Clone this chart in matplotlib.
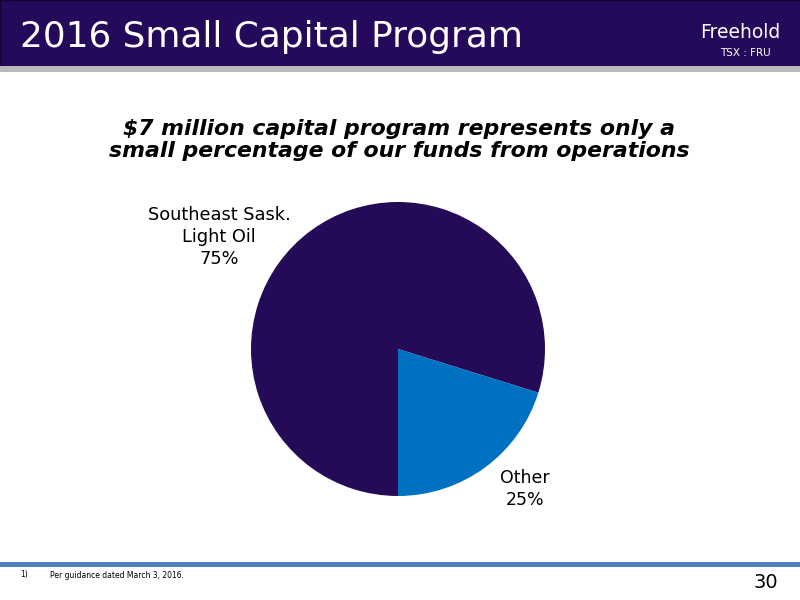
import matplotlib.pyplot as plt
from matplotlib.patches import Rectangle

plt.rcParams['font.family'] = ['DejaVu Sans']

# slice sizes as drawn in the picture, labels as printed on the slide
categories = ['Southeast Sask.\nLight Oil', 'Other']
drawn_share = [79.8, 20.2]
printed_pct = ['75%', '25%']
colors = ['#250A57', '#0070C0']

title = '2016 Small Capital Program'
subtitle = '$7 million capital program represents only a\nsmall percentage of our funds from operations'
footnote = 'Per guidance dated March 3, 2016.'
page_no = '30'

W, H = 800, 600
fig = plt.figure(figsize=(8, 6), dpi=100)

def fx(x):
    return x / W

def fy(y):
    return 1 - y / H

# header band
fig.patches.append(Rectangle((0, fy(66)), 1, 66 / H, transform=fig.transFigure,
                             facecolor='#25095A', edgecolor='#12042e', lw=1, zorder=0))
fig.patches.append(Rectangle((0, fy(72)), 1, 6 / H, transform=fig.transFigure,
                             facecolor='#B9B9B9', edgecolor='none', zorder=0))
fig.text(fx(20), fy(37), title, color='white', fontsize=25.8, va='center', ha='left')
fig.text(fx(740), fy(32), 'Freehold', color='white', fontsize=13.5, va='center', ha='center')
fig.text(fx(745), fy(53), 'TSX : FRU', color='white', fontsize=7.5, va='center', ha='center')

# subtitle
fig.text(fx(399), fy(140), subtitle, fontsize=15.8, fontweight='bold', style='italic',
         ha='center', va='center', linespacing=1.18)

# pie
cx, cy, r = 398, 349, 147
ax = fig.add_axes([fx(cx - r), fy(cy + r), 2 * r / W, 2 * r / H])
ax.pie(drawn_share, colors=colors, startangle=270, counterclock=False,
       wedgeprops=dict(linewidth=0))
ax.set_xlim(-1, 1)
ax.set_ylim(-1, 1)
ax.set_aspect('auto')
ax.axis('off')

fig.text(fx(219), fy(237), categories[0] + '\n' + printed_pct[0], fontsize=12.8,
         ha='center', va='center', linespacing=1.28)
fig.text(fx(525), fy(489), categories[1] + '\n' + printed_pct[1], fontsize=12.5,
         ha='center', va='center', linespacing=1.28)

# footer
fig.patches.append(Rectangle((0, fy(567)), 1, 5 / H, transform=fig.transFigure,
                             facecolor='#4F81BD', edgecolor='none', zorder=0))
fig.text(fx(20), fy(575), '1)', fontsize=5.5, va='center', ha='left')
fig.text(fx(50), fy(575), footnote, fontsize=5.5, va='center', ha='left')
fig.text(fx(778), fy(583), page_no, fontsize=14, va='center', ha='right')

fig.savefig('out.png', dpi=100)
